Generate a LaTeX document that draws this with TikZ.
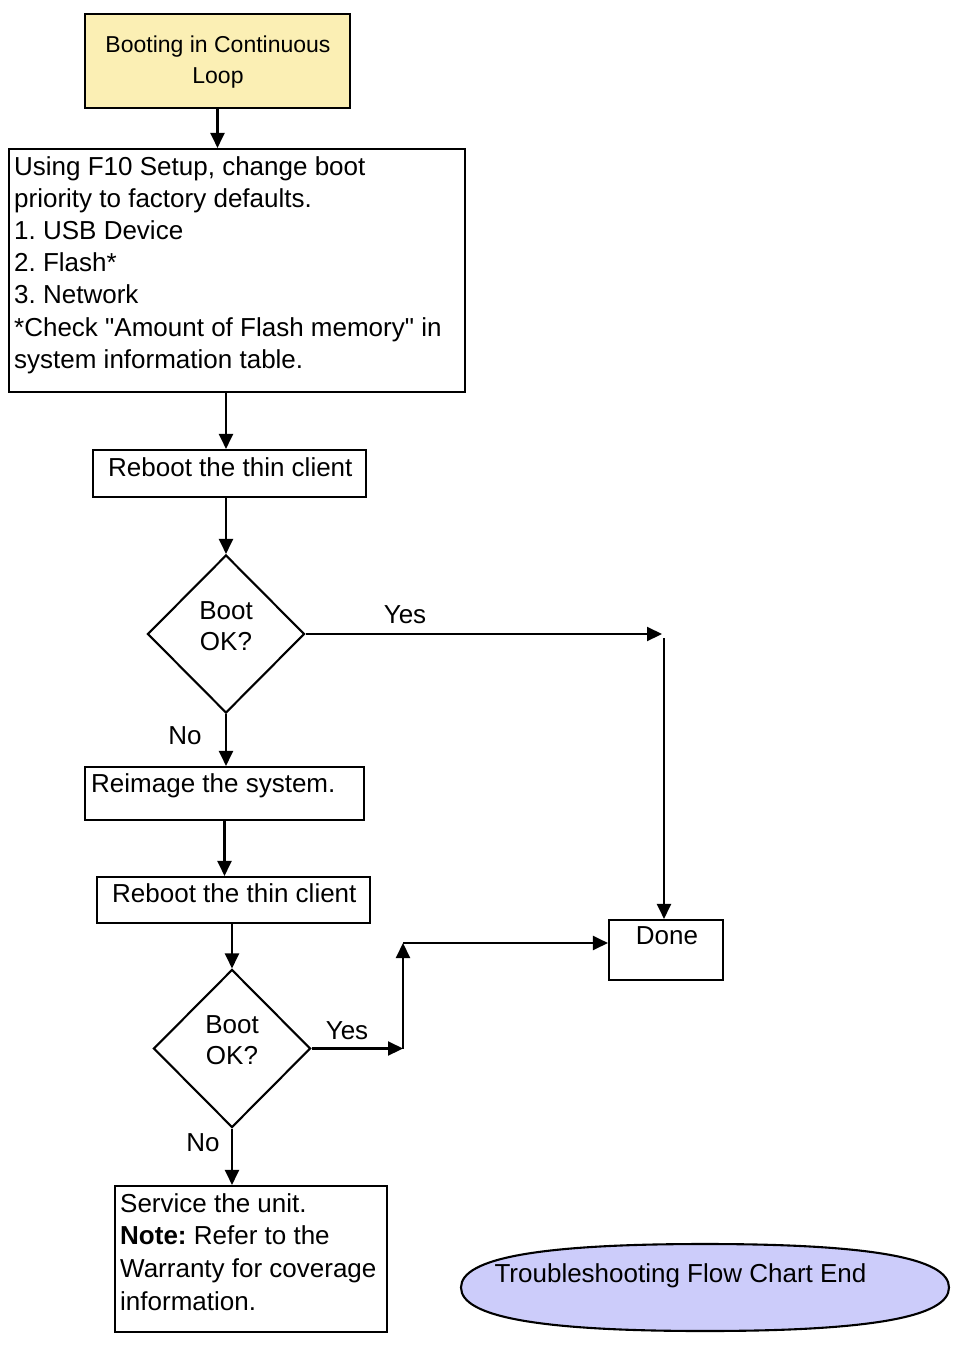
\documentclass[tikz,border=0pt]{standalone}
\usepackage{fontspec}
\newfontfamily\lsans{Liberation Sans}
\usetikzlibrary{shapes.geometric,arrows.meta}
\definecolor{startyellow}{RGB}{251,239,180}
\definecolor{endlav}{RGB}{204,204,250}
\begin{document}
\frenchspacing
\begin{tikzpicture}[x=1pt,y=-1pt,
 box/.style={draw, line width=2.1pt, inner sep=0pt, rectangle},
 dia/.style={draw, line width=2.1pt, diamond, inner sep=0pt, minimum width=157pt, minimum height=158pt},
 arr/.style={line width=2.1pt, -{Triangle[length=15pt,width=14pt]}},
 txt/.style={inner sep=0pt, font=\lsans\fontsize{26}{32.2}\selectfont, align=left, anchor=north west},
 ctxt/.style={inner sep=0pt, font=\lsans\fontsize{26}{31}\selectfont, align=center, anchor=north},
 lbl/.style={inner sep=0pt, font=\lsans\fontsize{26}{31}\selectfont, anchor=base}]
\useasboundingbox[fill=white] (0,0) rectangle (960,1346);

% shapes
\node[box, fill=startyellow, minimum width=265pt, minimum height=94pt] (b1) at (217.5,61) {};
\node[box, minimum width=456pt, minimum height=243pt] (b2) at (237,270.5) {};
\node[box, minimum width=273pt, minimum height=47pt] (b3) at (229.5,473.5) {};
\node[dia] (d1) at (226,634) {};
\node[box, minimum width=279pt, minimum height=53pt] (b4) at (224.5,793.5) {};
\node[box, minimum width=273pt, minimum height=46pt] (b5) at (233.5,900) {};
\node[dia] (d2) at (232,1048.5) {};
\node[box, minimum width=114pt, minimum height=60pt] (done) at (666,950) {};
\node[box, minimum width=272pt, minimum height=146pt] (b6) at (251,1259) {};
% end terminator (rounded ellipse outline)
\filldraw[fill=endlav, line width=2.1pt]
  (461,1287.5) .. controls (461,1258) and (540,1244) .. (705,1244)
  .. controls (870,1244) and (949,1258) .. (949,1287.5)
  .. controls (949,1317) and (870,1331) .. (705,1331)
  .. controls (540,1331) and (461,1317) .. (461,1287.5) -- cycle;

% texts
\node[ctxt, font=\lsans\fontsize{23}{31}\selectfont] (t1) at (218,36) {Booting in Continuous\\Loop};
\node[txt] (t2) at (14,156) {Using F10 Setup, change boot\\priority to factory defaults.\\1. USB Device\\2. Flash*\\3. Network\\*Check "Amount of Flash memory" in\\system information table.};
\node[txt] (t3) at (108,457) {Reboot the thin client};
\node[ctxt] (t4) at (226,601) {Boot\\OK?};
\node[txt] (t5) at (91,773) {Reimage the system.};
\node[txt] (t6) at (112,883) {Reboot the thin client};
\node[ctxt] (t7) at (232,1015) {Boot\\OK?};
\node[ctxt] (t8) at (667,926) {Done};
\node[txt, font=\lsans\fontsize{26}{32.7}\selectfont] (t9) at (120,1193) {Service the unit.\\\textbf{Note:} Refer to the\\Warranty for coverage\\information.};
\node[lbl] (ell) at (680.5,1282) {Troubleshooting Flow Chart End};

% labels
\node[lbl] (y1) at (405,623) {Yes};
\node[lbl] (n1) at (185,744) {No};
\node[lbl] (y2) at (347,1039) {Yes};
\node[lbl] (n2) at (203,1151) {No};

% connectors
\coordinate (yesA) at (662,634);
\coordinate (dn) at (664,638);
\coordinate (j1) at (403,1048.5);
\coordinate (j2) at (403,943);
\draw[arr] (b1.south) -- (b1.south |- b2.north);
\draw[arr] (b2.south -| d1.north) -- (b3.north -| d1.north);
\draw[arr] (b3.south -| d1.north) -- (d1.north);
\draw[arr] (d1.east) -- (yesA);
\draw[arr] (dn) -- (dn |- done.north);
\draw[arr] (d1.south) -- (d1.south |- b4.north);
\draw[arr] (b4.south) -- (b4.south |- b5.north);
\draw[arr] (b5.south -| d2.north) -- (d2.north);
\draw[arr] (d2.east) -- (j1);
\draw[arr] (j1) -- (j2);
\draw[arr] (j2) -- (j2 -| done.west);
\draw[arr] (d2.south) -- (d2.south |- b6.north);
\end{tikzpicture}
\end{document}
